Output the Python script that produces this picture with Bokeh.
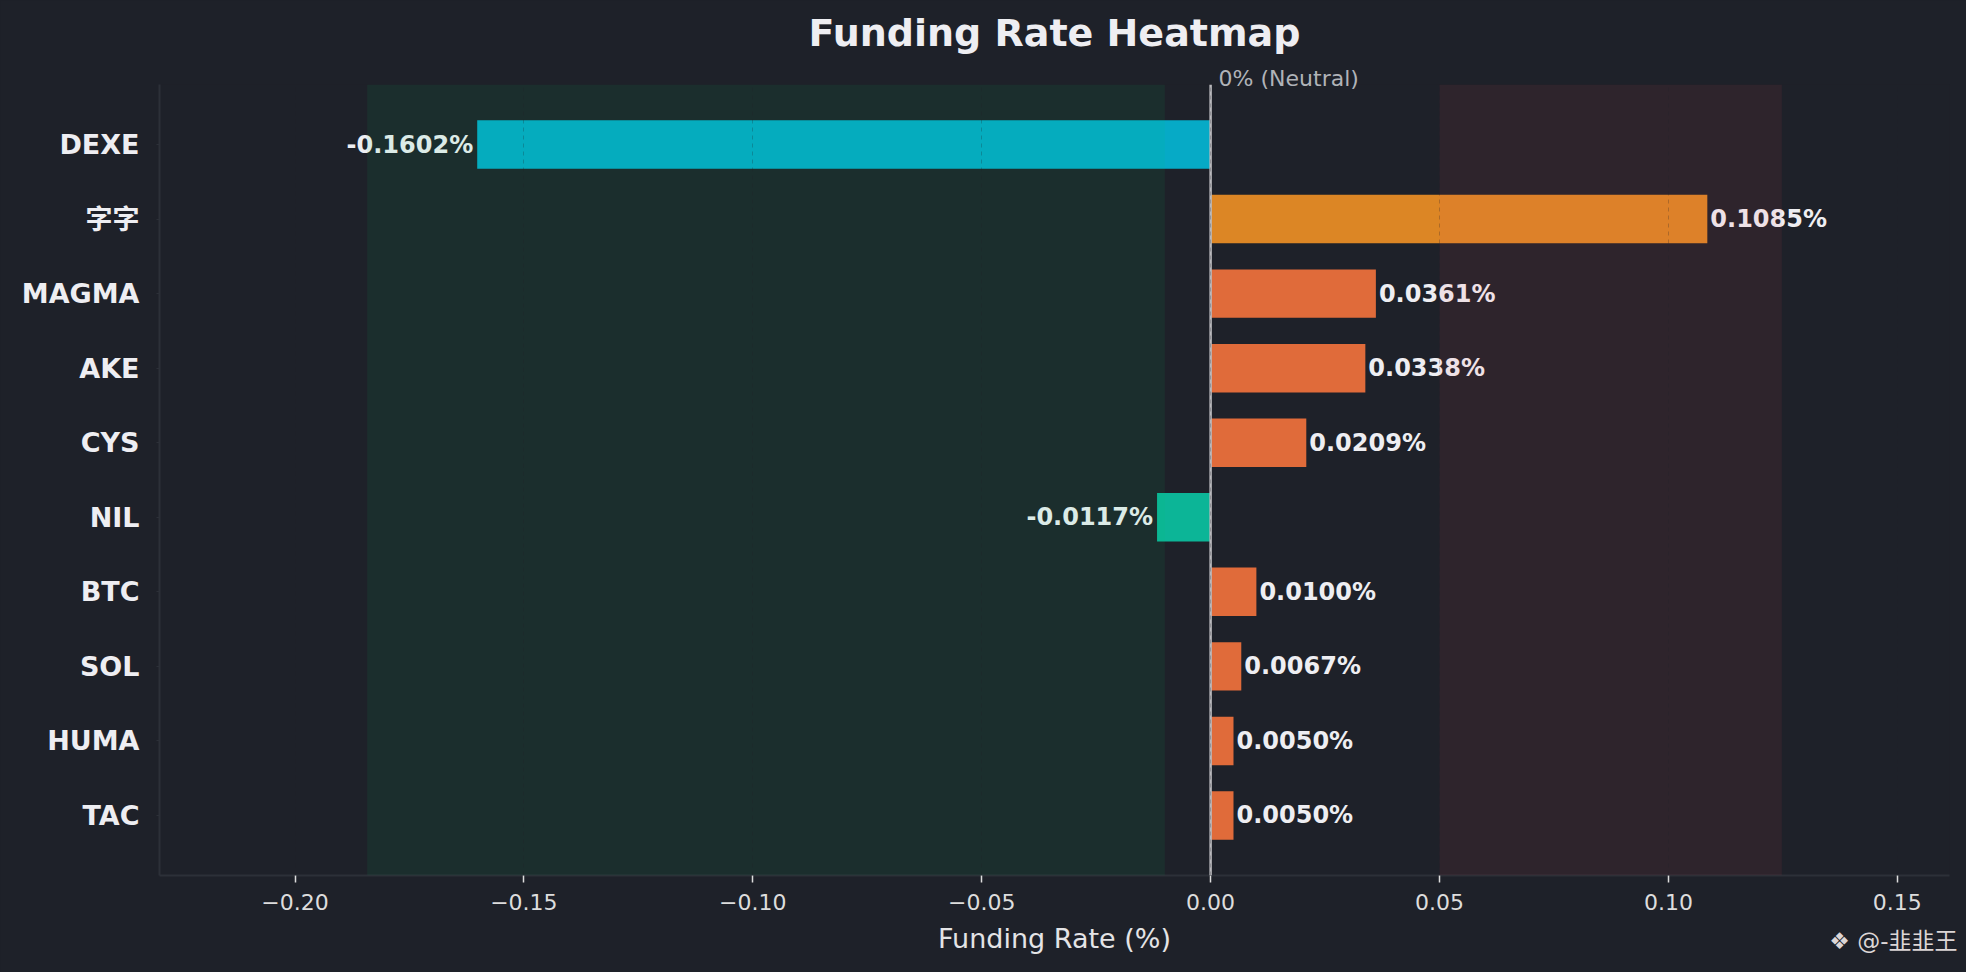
from bokeh.plotting import figure
from bokeh.models import (FactorRange, Range1d, ColumnDataSource, Span, BoxAnnotation,
                          Label, FixedTicker, Title)
from bokeh.core.properties import value
from bokeh.embed import file_html
from bokeh.resources import INLINE

# ---------------- data ----------------
categories = ["DEXE", "字字", "MAGMA", "AKE", "CYS", "NIL", "BTC", "SOL", "HUMA", "TAC"]
rates = [-0.1602, 0.1085, 0.0361, 0.0338, 0.0209, -0.0117, 0.0100, 0.0067, 0.0050, 0.0050]
x_ticks = [-0.20, -0.15, -0.10, -0.05, 0.00, 0.05, 0.10, 0.15]
x_tick_labels = ["\u22120.20", "\u22120.15", "\u22120.10", "\u22120.05", "0.00", "0.05", "0.10", "0.15"]
neg_zone_end = -0.01
pos_zone_start = 0.05

BG = "#1e2129"
FONT = "DejaVu Sans, 'Noto Sans CJK SC'"
TXT = "#eeeef2"

W, H = 1966, 972
ML, MR, MT, MB = 159, 17, 84, 97


def bar_color(v):
    if v <= -0.05:
        return "#06aac6"
    if v < 0:
        return "#0cb597"
    if v >= 0.05:
        return "#dc8625"
    return "#e06b3a"


colors = [bar_color(v) for v in rates]
labels = [f"{v:.4f}%" for v in rates]

src = ColumnDataSource(dict(cat=categories, rate=rates, color=colors, label=labels))
pos = ColumnDataSource(dict(
    cat=[c for c, v in zip(categories, rates) if v >= 0],
    rate=[v for v in rates if v >= 0],
    label=[l for l, v in zip(labels, rates) if v >= 0]))
neg = ColumnDataSource(dict(
    cat=[c for c, v in zip(categories, rates) if v < 0],
    rate=[v for v in rates if v < 0],
    label=[l for l, v in zip(labels, rates) if v < 0]))

y_range = FactorRange(factors=list(reversed(categories)), range_padding=0.305,
                      range_padding_units="absolute")
x_range = Range1d(-0.2296, 0.1614)

p = figure(width=W, height=H, y_range=y_range, x_range=x_range,
           output_backend="svg", toolbar_location=None,
           min_border_left=ML, min_border_right=MR, min_border_top=MT, min_border_bottom=MB)
p.background_fill_color = BG
p.border_fill_color = BG
p.outline_line_color = None

p.hbar(y="cat", left=0, right="rate", height=0.65, color="color", line_color=None, source=src)

# zones drawn over the bars
p.add_layout(BoxAnnotation(left=min(rates) * 1.15, right=neg_zone_end,
                           fill_color="#00c864", fill_alpha=0.08, line_color=None))
p.add_layout(BoxAnnotation(left=pos_zone_start, right=max(rates) * 1.15,
                           fill_color="#ef4757", fill_alpha=0.08, line_color=None))

p.add_layout(Span(location=0, dimension="height", line_color="#b8b8bc", line_width=2.5))

p.text(x="rate", y="cat", text="label", source=pos, x_offset=3,
       text_align="left", text_baseline="middle", text_font=value(FONT),
       text_font_style="bold", text_font_size="24px", text_color=TXT)
p.text(x="rate", y="cat", text="label", source=neg, x_offset=-4,
       text_align="right", text_baseline="middle", text_font=value(FONT),
       text_font_style="bold", text_font_size="24px", text_color=TXT)

# grid: only shows where it crosses the bars
p.ygrid.grid_line_color = None
p.xgrid.ticker = FixedTicker(ticks=x_ticks)
p.xgrid.grid_line_color = "#1e2129"
p.xgrid.grid_line_alpha = 0.25
p.xgrid.grid_line_dash = "4 4"
p.xgrid.level = "overlay"

# x axis
xa = p.xaxis[0]
xa.ticker = FixedTicker(ticks=x_ticks)
xa.major_label_overrides = {t: l for t, l in zip(x_ticks, x_tick_labels)}
xa.axis_line_color = "#2c3038"
xa.axis_line_width = 2
xa.major_tick_line_color = "#dddddd"
xa.major_tick_line_width = 1.5
xa.major_tick_in = 0
xa.major_tick_out = 7
xa.minor_tick_line_color = None
xa.major_label_text_font = FONT
xa.major_label_text_font_size = "22px"
xa.major_label_text_color = "#dddddd"
xa.major_label_standoff = 11
xa.axis_label = "Funding Rate (%)"
xa.axis_label_text_font = FONT
xa.axis_label_text_font_size = "27px"
xa.axis_label_text_font_style = "normal"
xa.axis_label_text_color = "#e4e4e6"
xa.axis_label_standoff = 10

# y axis
ya = p.yaxis[0]
ya.axis_line_color = "#2c3038"
ya.axis_line_width = 2
ya.major_tick_line_color = "#2c3038"
ya.major_tick_in = 0
ya.major_tick_out = 3
ya.minor_tick_line_color = None
ya.major_label_text_font = FONT
ya.major_label_text_font_size = "27px"
ya.major_label_text_font_style = "bold"
ya.major_label_text_color = TXT
ya.major_label_standoff = 17

# title (outermost panel above)
p.title.text = "Funding Rate Heatmap"
p.title.align = "center"
p.title.text_font = FONT
p.title.text_font_size = "38px"
p.title.text_font_style = "bold"
p.title.text_color = TXT
p.title.standoff = 9

# neutral label just above the frame (side panel, so it is not clipped)
p.add_layout(Label(x=0, y=6, y_units="screen", x_offset=8,
                   text="0% (Neutral)", text_align="left", text_baseline="alphabetic",
                   text_font=FONT, text_font_size="22px", text_color="#b0b3b8"), "above")

# watermark, bottom right
p.add_layout(Title(text="\u2756 @-韭韭王", align="right", offset=-8, vertical_align="top",
                   standoff=-58, text_font=FONT, text_font_size="23px",
                   text_font_style="normal", text_color="#dcd6d6"), "below")

html = file_html(p, INLINE)
html = html.replace("<head>", "<head><style>body{background:%s;}</style>" % BG, 1)
open("out.html", "w").write(html)
